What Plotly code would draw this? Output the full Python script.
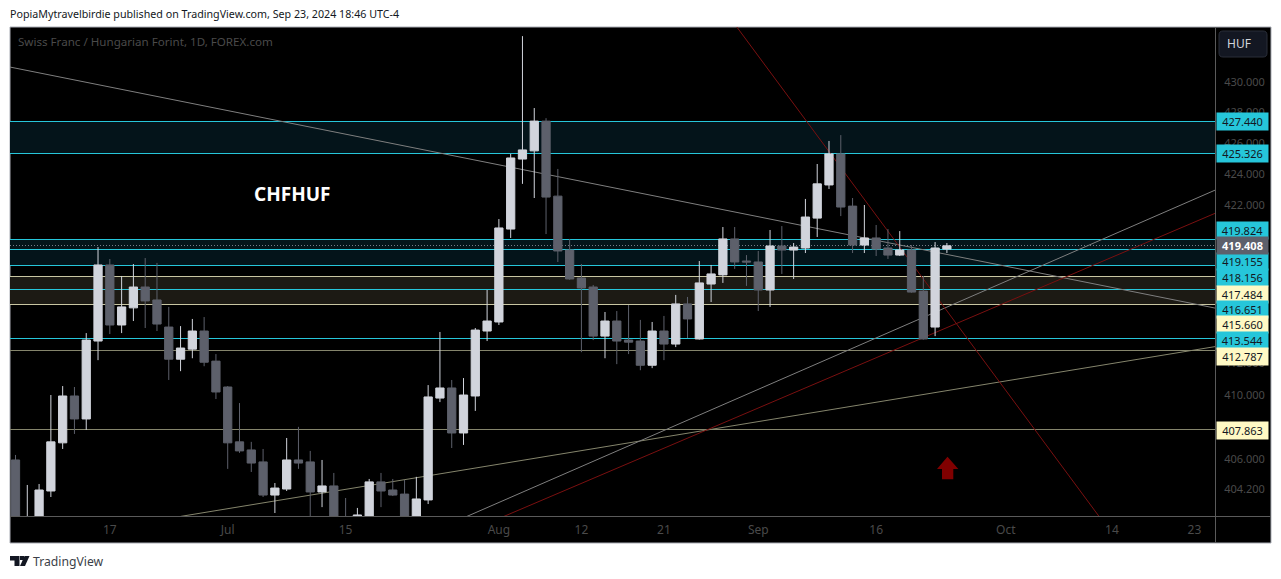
import math
import pandas as pd
import plotly.graph_objects as go

W, H = 1281, 579
PL, PR, PT, PB = 10, 1215, 27, 516

# ---------- data ----------
first_bar = "2024-06-05"
opens = [405.97,401.80,401.98,404.06,407.03,409.94,408.51,413.38,418.19,414.39,415.47,416.79,415.97,414.26,412.24,412.87,414.01,412.12,410.50,407.09,
         406.59,405.85,403.81,404.18,405.97,405.85,404.00,404.37,402.16,402.41,401.98,404.62,404.12,403.87,401.98,403.51,409.81,410.44,407.64,409.94,
         414.01,414.58,420.48,424.98,425.51,427.44,422.59,419.14,417.36,416.79,413.69,414.64,413.44,413.38,411.86,414.01,413.19,415.72,413.51,416.98,
         417.56,419.85,418.44,418.38,416.60,419.40,419.14,419.27,421.18,423.31,425.31,421.95,419.46,419.91,419.27,418.82,419.14,416.53,414.26,419.20]
highs = [406.28,404.43,404.49,410.00,410.56,410.50,413.88,419.33,418.57,417.49,418.25,418.63,418.32,415.53,414.32,414.77,414.89,412.56,410.56,409.50,
         407.09,406.65,404.55,407.33,408.02,406.53,405.97,405.17,403.63,403.02,404.80,405.17,404.80,404.74,404.93,410.62,413.95,410.94,411.06,414.20,
         416.60,421.12,425.31,433.00,428.29,427.63,424.34,419.85,418.25,416.92,415.21,415.27,415.65,414.71,414.58,414.96,416.29,416.16,418.44,418.19,
         420.61,420.61,418.82,419.08,420.42,420.67,419.59,422.41,424.66,426.15,426.53,422.47,422.02,420.74,420.48,420.35,419.46,417.49,419.65,419.59]
lows = [401.68,401.50,401.68,403.69,406.65,407.58,407.83,412.18,413.82,413.88,414.64,414.20,414.01,410.94,411.49,412.30,411.80,409.75,405.42,406.41,
        405.23,403.69,402.71,404.06,405.42,402.16,403.07,401.68,401.30,402.16,401.68,403.07,403.75,401.68,401.68,403.26,409.56,406.71,406.90,409.01,
        413.38,414.39,419.91,423.38,422.47,420.16,418.38,417.25,412.68,413.44,412.30,411.93,412.56,411.55,411.68,412.18,413.00,413.57,413.47,415.84,
        417.05,417.94,416.86,415.27,415.53,417.62,417.30,418.95,419.97,423.05,421.31,418.95,418.95,418.76,418.57,418.76,416.43,413.47,413.69,418.95]
closes = [401.98,402.29,404.12,407.09,409.94,408.51,413.44,418.19,414.39,415.53,416.79,415.91,414.45,412.24,412.94,414.01,412.05,410.19,407.03,406.53,
          405.78,403.81,404.24,405.97,405.78,404.00,404.37,401.98,401.68,402.59,404.62,404.06,403.81,401.98,403.57,409.88,410.44,407.64,410.00,414.07,
          414.64,420.55,425.05,425.57,427.44,422.53,419.08,417.30,416.73,413.69,414.64,413.38,413.31,411.86,414.01,413.19,415.72,414.77,417.05,417.62,
          419.85,418.38,418.38,416.60,419.40,419.14,419.33,421.25,423.38,425.31,421.89,419.46,419.91,419.20,418.82,419.14,416.47,413.51,419.27,419.408]

cyan_levels = [427.440, 425.326, 419.824, 419.155, 418.156, 416.651, 413.544]
yellow_levels = [417.484, 415.660]
olive_levels = [412.787, 407.863]
last_price = 419.408
teal_zones = [(427.440, 425.326), (419.824, 418.156)]
yellow_zones = [(417.484, 415.660)]

# trend lines: (date, price) pairs
grey_lines = [("2024-06-04", 431.05, "2024-10-25", 415.42),
              ("2024-07-29", 402.41, "2024-10-25", 423.06)]
red_lines = [("2024-08-01", 402.37, "2024-10-25", 421.57),
             ("2024-08-29", 433.79, "2024-10-11", 402.41)]
olive_lines = [("2024-06-25", 402.50, "2024-10-25", 413.06)]

y_tick_vals = [430, 428, 426, 424, 422, 412, 410, 406, 404.2]
x_tick_vals = ["2024-06-17", "2024-07-01", "2024-07-15", "2024-08-01", "2024-08-12", "2024-08-21",
               "2024-09-02", "2024-09-16", "2024-10-01", "2024-10-14", "2024-10-23"]
x_tick_text = ["17", "Jul", "15", "Aug", "12", "21", "Sep", "16", "Oct", "14", "23"]

price_labels = [427.440, 425.326, 419.824, 419.155, 418.156, 417.484, 416.651, 415.660, 413.544, 412.787, 407.863, 419.408]
label_kinds = ["c", "c", "c", "c", "c", "y", "c", "y", "c", "y", "y", "g"]
label_shift = [0, 0, 9, -12, -12, -18, -20, -20, -2, -6, -1, 0]

# ---------- styling ----------
UP, DOWN = "#D1D4DC", "#5D606B"
CYAN, YEL, OLV = "#26C6DA", "#C9C6A2", "#85856C"
GREY, RED = "#7F7F7F", "#7A1010"
FONT = "Noto Sans"
AXIS_TXT = "#4A4A4A"


def px(x):
    return (x - PL) / (PR - PL)


def py(y):
    return 1 - (y - PT) / (PB - PT)


def paper_path(cmds):
    out = []
    for c in cmds:
        if len(c) == 1:
            out.append(c[0])
        else:
            out.append(f"{c[0]}{px(c[1]):.6f},{py(c[2]):.6f}")
    return " ".join(out)


dates = pd.bdate_range(first_bar, periods=len(opens))

fig = go.Figure(go.Candlestick(
    x=dates, open=opens, high=highs, low=lows, close=closes,
    increasing=dict(line=dict(color=UP, width=1), fillcolor=UP),
    decreasing=dict(line=dict(color=DOWN, width=1), fillcolor=DOWN),
    whiskerwidth=0, hoverinfo="skip", showlegend=False))

shapes = []


def paper_rect(x0, y0, x1, y1, fill, line=None, layer="below"):
    shapes.append(dict(type="rect", xref="paper", yref="paper", x0=px(x0), x1=px(x1), y0=py(y0), y1=py(y1),
                       fillcolor=fill, line=dict(color=line or fill, width=1 if line else 0), layer=layer))


# black chart frame with price and time panels
paper_rect(10, 27, 1271, 543, "#000000", "#A9ACB4")

for a, b in teal_zones:
    shapes.append(dict(type="rect", xref="paper", yref="y", x0=0, x1=1, y0=a, y1=b,
                       fillcolor="#04141A", line_width=0, layer="below"))
for a, b in yellow_zones:
    shapes.append(dict(type="rect", xref="paper", yref="y", x0=0, x1=1, y0=a, y1=b,
                       fillcolor="#1C1A14", line_width=0, layer="below"))


def hline(v, color, dash="solid"):
    shapes.append(dict(type="line", xref="paper", yref="y", x0=0, x1=1, y0=v, y1=v,
                       line=dict(color=color, width=1, dash=dash), layer="below"))


for v in olive_levels:
    hline(v, OLV)
for v in yellow_levels:
    hline(v, YEL)
for v in cyan_levels:
    hline(v, CYAN)
hline(last_price, "#787B86", "1px,2px")


def trend(lines, color):
    for d0, p0, d1, p1 in lines:
        shapes.append(dict(type="line", xref="x", yref="y", x0=d0, x1=d1, y0=p0, y1=p1,
                           line=dict(color=color, width=1), layer="below"))


trend(olive_lines, OLV)
trend(grey_lines, GREY)
trend(red_lines, RED)

# panel separators
shapes.append(dict(type="line", xref="paper", yref="paper", x0=px(1215.5), x1=px(1215.5), y0=py(27), y1=py(543),
                   line=dict(color="#5A5A5A", width=1), layer="above"))
shapes.append(dict(type="line", xref="paper", yref="paper", x0=px(10), x1=px(1271), y0=py(516.5), y1=py(516.5),
                   line=dict(color="#5A5A5A", width=1), layer="above"))

# red arrow
shapes.append(dict(type="path", xref="paper", yref="paper", layer="above", fillcolor="#800000", line_width=0,
                   path=paper_path([("M", 947.5, 456.7), ("L", 958.3, 469), ("L", 953.3, 469), ("L", 953.3, 479.3),
                                    ("L", 942, 479.3), ("L", 942, 469), ("L", 937, 469), ("Z",)])))

# HUF button
r = 4
shapes.append(dict(type="path", xref="paper", yref="paper", layer="above", fillcolor="#131722",
                   line=dict(color="#2A2E39", width=1),
                   path=paper_path([("M", 1219 + r, 31), ("L", 1267 - r, 31), ("Q", 1267, 31), ("", 1267, 31 + r),
                                    ("L", 1267, 57 - r), ("Q", 1267, 57), ("", 1267 - r, 57), ("L", 1219 + r, 57),
                                    ("Q", 1219, 57), ("", 1219, 57 - r), ("L", 1219, 31 + r), ("Q", 1219, 31),
                                    ("", 1219 + r, 31), ("Z",)])))

# TradingView logo
for cmds in ([("M", 10, 556), ("L", 19.5, 556), ("L", 19.5, 566), ("L", 14.5, 566), ("L", 14.5, 560.5), ("L", 10, 560.5), ("Z",)],
             [("M", 24.5, 556), ("L", 29.5, 556), ("L", 25, 566), ("L", 20, 566), ("Z",)],
             [("M", 20, 556), ("L", 24, 556), ("L", 24, 560), ("L", 20, 560), ("Z",)]):
    shapes.append(dict(type="path", xref="paper", yref="paper", layer="above", fillcolor="#131722", line_width=0,
                       path=paper_path(cmds)))

ann = []


def text(x, y, s, size, color, anchor="left", bold=False, font=FONT):
    ann.append(dict(xref="paper", yref="paper", x=px(x), y=py(y), text=f"<b>{s}</b>" if bold else s,
                    showarrow=False, xanchor=anchor, yanchor="middle",
                    font=dict(family=font, size=size, color=color)))


text(8, 14, "PopiaMytravelbirdie published on TradingView.com, Sep 23, 2024 18:46 UTC-4", 10.7, "#131722")
text(16, 41.5, "Swiss Franc / Hungarian Forint, 1D, FOREX.com", 11.6, AXIS_TXT)
text(292, 194, "CHFHUF", 19, "#FFFFFF", "center", True)
text(1238.5, 44, "HUF", 12, "#D1D4DC", "center")
text(31, 561, "TradingView", 12.2, "#3C3F48")

styles = {"c": (CYAN, "#131722", False), "y": ("#FFF9C4", "#131722", False), "g": ("#5D606B", "#FFFFFF", True)}
for p, kind, shift in zip(price_labels, label_kinds, label_shift):
    bg, fg, bold = styles[kind]
    s = f"{p:.3f}"
    ann.append(dict(xref="paper", yref="y", x=px(1216), y=math.log10(p), yshift=shift,
                    text=f"<b>{s}</b>" if bold else s, showarrow=False, xanchor="left", yanchor="middle",
                    width=51, height=17, borderpad=0, bgcolor=bg, align="center",
                    font=dict(family=FONT, size=11, color=fg)))

fig.update_layout(
    width=W, height=H, autosize=False,
    margin=dict(l=PL, r=W - PR, t=PT, b=H - PB, pad=0),
    paper_bgcolor="#FFFFFF", plot_bgcolor="#000000",
    showlegend=False, hovermode=False, dragmode=False,
    boxgap=0.3, boxgroupgap=0,
    shapes=shapes, annotations=ann,
    xaxis=dict(type="date", range=["2024-06-04 12:48", "2024-10-24 17:46"],
               rangebreaks=[dict(bounds=["sat", "mon"])],
               rangeslider=dict(visible=False), showgrid=False, zeroline=False, showline=False,
               tickmode="array", tickvals=x_tick_vals, ticktext=x_tick_text,
               ticks="outside", ticklen=3, tickcolor="rgba(0,0,0,0)",
               tickfont=dict(family=FONT, size=12, color=AXIS_TXT)),
    yaxis=dict(type="log", side="right", range=[2.604794, 2.63709], showgrid=False, zeroline=False, showline=False,
               tickmode="array", tickvals=y_tick_vals, ticktext=[f"{v:.3f}" for v in y_tick_vals],
               ticks="outside", ticklen=6, tickcolor="rgba(0,0,0,0)",
               tickfont=dict(family=FONT, size=11, color=AXIS_TXT)),
)

crisp = r"""
document.body.style.margin='0';document.body.style.overflow='hidden';
document.querySelectorAll('.shapelayer path').forEach(function(p){
  var m=(p.getAttribute('d')||'').match(/^M[-\d.]+,([-\d.]+)L[-\d.]+,([-\d.]+)$/);
  if(m && m[1]===m[2]){p.style.shapeRendering='crispEdges';}
});
"""
fig.write_html("out.html", config={"displayModeBar": False}, post_script=crisp)
